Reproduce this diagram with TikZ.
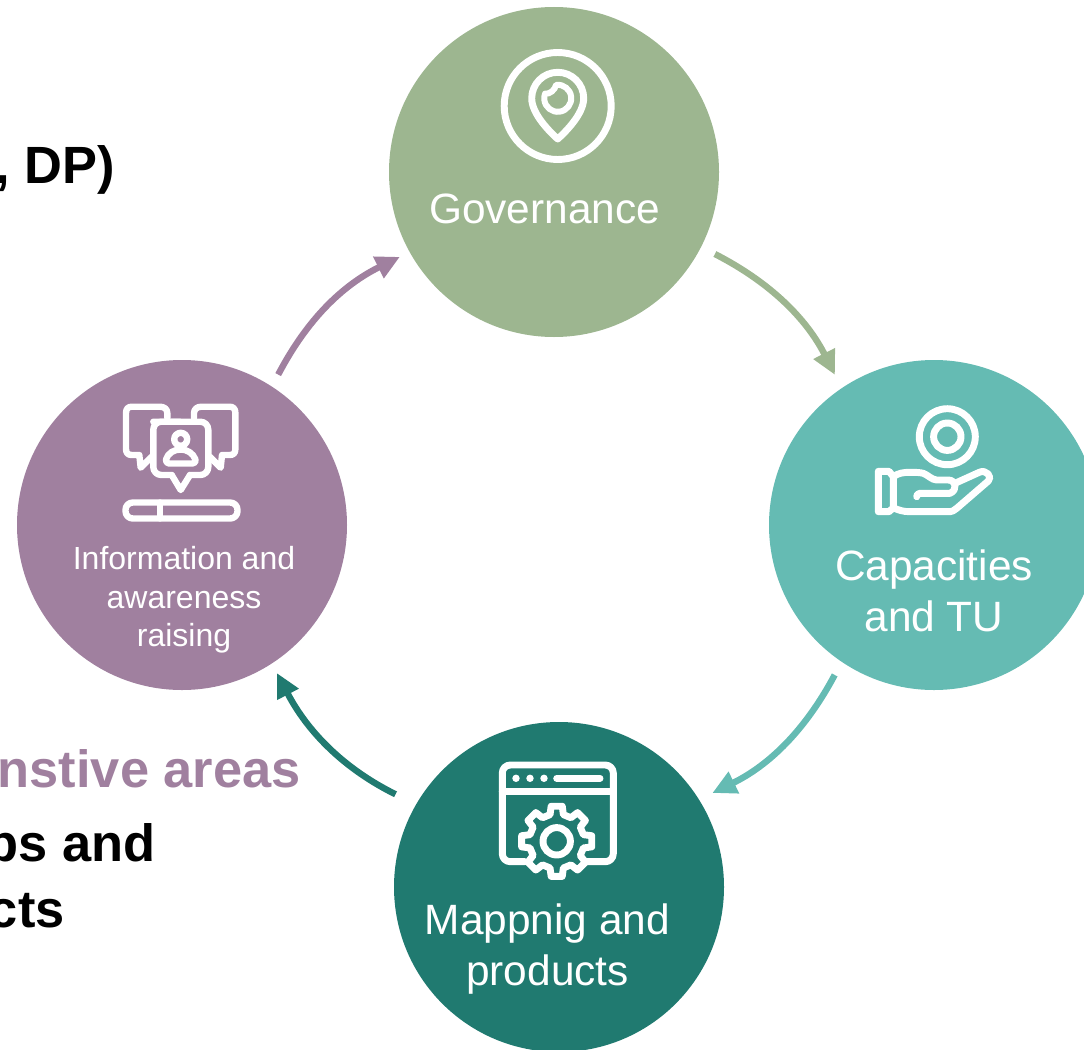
\documentclass[tikz,border=0pt]{standalone}
\usepackage{fontspec}
\setmainfont{Liberation Sans}
\usetikzlibrary{arrows.meta}
\definecolor{govgreen}{HTML}{9DB690}
\definecolor{capteal}{HTML}{65BBB3}
\definecolor{mapdark}{HTML}{207A70}
\definecolor{infopurple}{HTML}{A0809F}
\tikzset{
  bubble/.style={circle,minimum size=247.5pt,inner sep=0pt},
  bubbletext/.style={text=white,align=center,inner sep=0pt,font=\fontsize{31.8}{38.25}\selectfont},
  smalltext/.style={text=white,align=center,inner sep=0pt,font=\fontsize{24}{28.9}\selectfont},
  sidetext/.style={anchor=east,inner sep=0pt,font=\fontsize{39.3}{47}\selectfont\bfseries},
  cyclearrow/.style={line width=4.8pt,-{Triangle[length=18pt,width=17pt]},bend right=18},
  iconline/.style={draw=white,line width=5.2pt,line join=round,line cap=round},
  thinicon/.style={draw=white,line width=4.8pt,line join=round,line cap=round}
}
\begin{document}
\begin{tikzpicture}[x=0.75pt,y=0.75pt,yscale=-1,xscale=1]
  \clip (0,0) rectangle (1084,1049);
  \node[bubble,fill=govgreen] (gov) at (554,172) {};
  \node[bubble,fill=capteal] (cap) at (934,525) {};
  \node[bubble,fill=mapdark] (map) at (559,887) {};
  \node[bubble,fill=infopurple] (info) at (182,525) {};
  \node[bubbletext] (govlabel) at (544.5,209) {Governance};
  \node[bubbletext] (caplabel) at (934,591) {Capacities\\and TU};
  \node[bubbletext] (maplabel) at (547.5,949) {Mappnig and\\products};
  \node[smalltext] (infolabel) at (184,600) {Information and\\awareness\\raising};
  \node[sidetext] (dplabel) at (115,170) {, DP)};
  \node[sidetext,text=infopurple] (arealabel) at (301,769) {nstive areas};
  \node[sidetext] (mapslabel) at (156,848) {ps and};
  \node[sidetext] (ctslabel) at (65,911) {cts};
  \draw[cyclearrow,govgreen,shorten <=11.5pt,shorten >=11pt] (gov.-27) to (cap.124);
  \draw[cyclearrow,capteal,shorten <=11pt,shorten >=11pt] (cap.236) to (map.32);
  \draw[cyclearrow,mapdark,shorten <=17pt,shorten >=8pt] (map.150) to (info.-57);
  \draw[cyclearrow,infopurple,shorten <=10pt,shorten >=8pt] (info.57) to (gov.209);
  % governance icon
  \draw[iconline] (557.7,106) circle (53.5);
  \draw[iconline] (557.7,139) .. controls (550,132) and (531.7,114) .. (531.7,98.3) arc (180:360:26) .. controls (583.7,114) and (565.4,132) .. cycle;
  \draw[iconline,line width=4.5pt] (556.1,84.9) arc (263:560:13.5) .. controls (549.5,94.5) and (555,90) .. cycle;
  % capacities icon
  \draw[iconline] (947.3,436.7) circle (28);
  \draw[iconline] (947.3,436.7) circle (13.7);
  \draw[iconline] (878.3,471.3) -- (889,471.3) -- (893.3,476.7) -- (893.3,507.7) -- (889,511.7) -- (878.3,511.7) -- cycle;
  \draw[iconline] (893.3,476.7) .. controls (898,473) and (904,472.3) .. (910,472.3) .. controls (916,472.3) and (920,472.5) .. (923.3,473.3) .. controls (928,475) and (932,480) .. (936.7,480) -- (948.3,480) .. controls (956,480) and (958,490) .. (950,493.3) -- (920,493.3) .. controls (917.5,493.3) and (916.7,495) .. (916.7,496.7);
  \draw[iconline] (955,483.3) -- (979.3,472.3) .. controls (986,469) and (993,477) .. (988.3,481) -- (956.7,508.3) .. controls (954,510.5) and (952,511.7) .. (950,511.7) -- (910,511.7) .. controls (903,511.7) and (898,510) .. (893.3,507.7);
  % information icon
  \draw[thinicon,rounded corners=6pt] (153.3,421.7) -- (208.3,421.7) -- (208.3,475) -- (190,475);
  \draw[thinicon,rounded corners=6pt] (171.7,475) -- (153.3,475) -- (153.3,421.7) -- (180,421.7);
  \draw[thinicon] (171.7,475) -- (180.7,490) -- (190,475);
  \draw[thinicon] (180.7,439.3) circle (6.5);
  \draw[thinicon] (169,463.5) -- (192.5,463.5) .. controls (195,463.5) and (196,461.5) .. (195.5,459.5) .. controls (193,453) and (187,449.5) .. (180.7,449.5) .. controls (174,449.5) and (168,453) .. (166,459.5) .. controls (165.5,461.5) and (167,463.5) .. cycle;
  \draw[thinicon] (167.3,418) -- (167.3,413) .. controls (167.3,409) and (164,406.7) .. (160,406.7) -- (131.7,406.7) .. controls (128,406.7) and (126,409) .. (126,413) -- (126,449) .. controls (126,453) and (128,455) .. (131.7,455) -- (139.3,455) -- (140.7,467.7) -- (151.7,456.7);
  \draw[thinicon] (194,418) -- (194,413) .. controls (194,409) and (197.4,406.7) .. (201.4,406.7) -- (229.7,406.7) .. controls (233.4,406.7) and (235.4,409) .. (235.4,413) -- (235.4,449) .. controls (235.4,453) and (233.4,455) .. (229.7,455) -- (222,455) -- (220.7,467.7) -- (209.7,456.7);
  \draw[thinicon,rounded corners=5.5pt] (125.5,502.5) rectangle (237.5,518.5);
  \draw[thinicon] (160,502.5) -- (160,518.5);
  % mapping icon
  \draw[iconline,rounded corners=6pt] (525,861.7) -- (502.3,861.7) -- (502.3,765) -- (613.3,765) -- (613.3,861.7) -- (587,861.7);
  \draw[iconline] (502.3,791.7) -- (613.3,791.7);
  \foreach \dotx in {516,530,544}
    \fill[white] (\dotx,778.3) circle (3.7);
  \draw[iconline] (556.7,778.3) -- (600,778.3);
  \begin{scope}[shift={(556.7,841.3)}]
    \draw[iconline] (-14:27.5) \foreach \a in {0,45,...,315} { -- (\a-14:27.5) -- (\a-9:35.5) -- (\a+9:35.5) -- (\a+14:27.5) } -- cycle;
    \draw[iconline] (0,0) circle (13.7);
  \end{scope}
\end{tikzpicture}
\end{document}
